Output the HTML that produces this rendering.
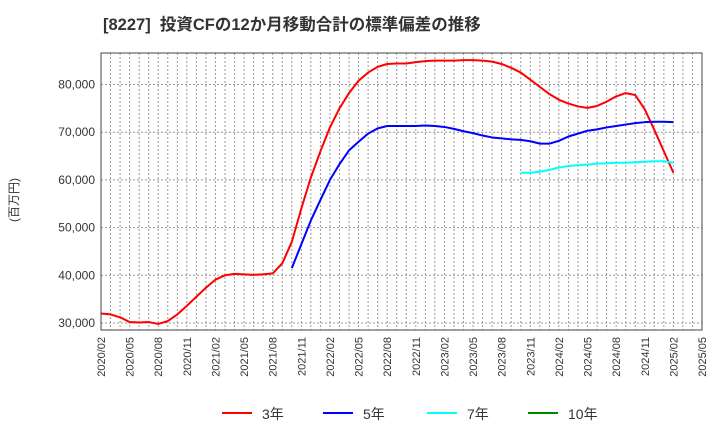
<!DOCTYPE html>
<html><head><meta charset="utf-8"><style>
body{margin:0;background:#fff;font-family:"Liberation Sans","Noto Sans CJK JP",sans-serif}
svg text{font-family:"Liberation Sans","Noto Sans CJK JP",sans-serif}
</style></head><body>
<svg id="c" width="720" height="440">
<text x="103" y="30" font-size="16.5" font-weight="bold" fill="#333" xml:space="preserve">[8227]  投資CFの12か月移動合計の標準偏差の推移</text>
<text transform="translate(18,200) rotate(-90)" font-size="12" fill="#333" text-anchor="middle">(百万円)</text>
<g id="grid"></g><g id="series"></g><g id="axes"></g>
<g id="legend"></g>
</svg>
<script>
const startYear=2020,startMonth=2;
const yTicks=[30000,40000,50000,60000,70000,80000];
const s3=[32000,31800,31200,30200,30100,30200,29800,30400,31800,33600,35500,37400,39100,40000,40300,40200,40100,40200,40400,42500,47000,54000,60500,66000,71000,75000,78200,80800,82500,83700,84300,84400,84400,84700,84900,85000,85000,85000,85100,85100,85000,84800,84300,83500,82500,81000,79500,78000,76800,76000,75400,75100,75500,76400,77500,78200,77800,74800,70500,66000,61500];
const s5=[41500,46500,51500,55800,60000,63300,66200,68000,69700,70800,71300,71300,71300,71300,71400,71300,71100,70700,70200,69800,69300,68900,68700,68500,68400,68100,67600,67600,68200,69100,69700,70300,70600,71000,71300,71600,71900,72100,72200,72200,72100];
const s5Start=20;
const s7=[61500,61500,61700,62100,62600,62900,63100,63200,63400,63500,63600,63600,63700,63800,63900,63900,63600];
const s7Start=44;
const s10=[];
const L=101,R=702,T=53,B=330,NM=63;
const x=i=>L+i*(R-L)/NM;
const y=v=>323-(v-30000)*47.7/10000;
const NS="http://www.w3.org/2000/svg";
function mk(t,a,p){const e=document.createElementNS(NS,t);for(const k in a)e.setAttribute(k,a[k]);p.appendChild(e);return e;}
const g=document.getElementById('grid'),ax=document.getElementById('axes'),sg=document.getElementById('series'),lg=document.getElementById('legend');
for(let i=1;i<NM;i++){const l=mk('line',{x1:x(i),x2:x(i),y1:T,y2:B,stroke:'#999','stroke-dasharray':'2,2','stroke-width':1},g);

}
yTicks.forEach(v=>{const l=mk('line',{x1:L,x2:R,y1:y(v),y2:y(v),stroke:'#999','stroke-dasharray':'2,2'},g);


const t=mk('text',{x:L-6,y:y(v)+4,'font-size':12,'text-anchor':'end',fill:'#333'},ax);t.textContent=v.toLocaleString('en-US');

});
const fr=mk('rect',{x:L,y:T,width:R-L,height:B-T,fill:'none',stroke:'#444','stroke-width':1},ax);


for(let i=0;i<=NM;i+=3){const m=startMonth-1+i,yr=startYear+Math.floor(m/12),mo=m%12+1;
const t=mk('text',{transform:`translate(${x(i)+4},337) rotate(-90)`,'font-size':11,'text-anchor':'end',fill:'#333'},ax);
t.textContent=yr+'/'+String(mo).padStart(2,'0');

}
function line(arr,st,col,name){if(!arr.length)return;const p=mk('polyline',{points:arr.map((v,i)=>x(st+i)+','+y(v)).join(' '),fill:'none',stroke:col,'stroke-width':2,'stroke-linejoin':'round'},sg);

}
line(s3,0,'#f00','series-3y');line(s5,s5Start,'#00f','series-5y');line(s7,s7Start,'#0ff','series-7y');line(s10,0,'#080','series-10y');
[['3年','#f00',222],['5年','#00f',323],['7年','#0ff',427],['10年','#080',528]].forEach(([n,c,lx])=>{
const l=mk('line',{x1:lx,x2:lx+30,y1:413,y2:413,stroke:c,'stroke-width':2},lg);


const t=mk('text',{x:lx+40,y:419,'font-size':14,fill:'#333'},lg);t.textContent=n;

});
</script>
</body></html>
